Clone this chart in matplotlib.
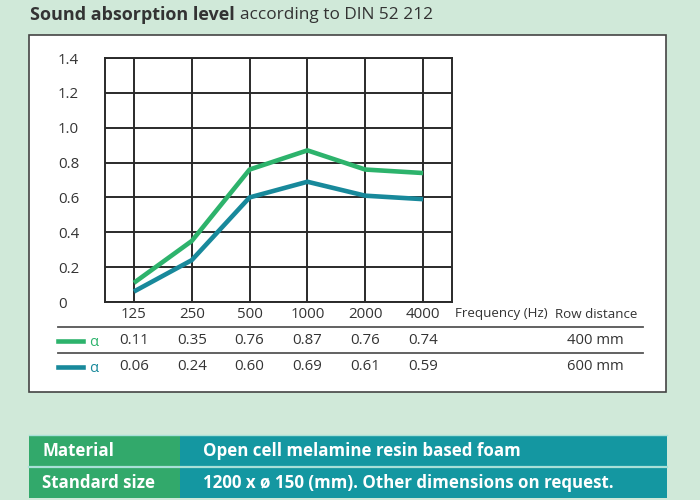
import matplotlib
matplotlib.use("Agg")
import matplotlib.pyplot as plt
from matplotlib.patches import Rectangle
from matplotlib.lines import Line2D

# data
freqs = ["125", "250", "500", "1000", "2000", "4000"]
alpha_400 = [0.11, 0.35, 0.76, 0.87, 0.76, 0.74]
alpha_600 = [0.06, 0.24, 0.60, 0.69, 0.61, 0.59]
row_dist = ["400 mm", "600 mm"]
yticks = [0, 0.2, 0.4, 0.6, 0.8, 1.0, 1.2, 1.4]
ytick_labels = ["0", "0.2", "0.4", "0.6", "0.8", "1.0", "1.2", "1.4"]
info_keys = ["Material", "Standard size"]
info_vals = ["Open cell melamine resin based foam",
             "1200 x ø 150 (mm). Other dimensions on request."]

BG = "#d0e9d9"
GREEN = "#2db36c"
TEAL = "#18899b"
CELL_GREEN = "#32a96b"
CELL_TEAL = "#1497a1"
DARK = "#333333"

plt.rcParams['font.family'] = ['Open Sans', 'DejaVu Sans']

W, H = 700, 500
fig = plt.figure(figsize=(7, 5), dpi=100, facecolor=BG)


def px(x, y):
    # pixel coords (top-left origin) to figure fraction
    return x / W, 1 - y / H


def rect_px(x0, y0, x1, y1, **kw):
    fx, fy = px(x0, y1)
    r = Rectangle((fx, fy), (x1 - x0) / W, (y1 - y0) / H,
                  transform=fig.transFigure, **kw)
    fig.patches.append(r)


# white panel (behind the axes)
rect_px(29, 35, 666, 392, facecolor="white", edgecolor="#444444", lw=1.2, zorder=-1)

# title
t1 = fig.text(*px(30, 15), "Sound absorption level", fontsize=13,
              fontweight="bold", color=DARK, va="center", ha="left")
fig.canvas.draw()
bb = t1.get_window_extent()
fig.text(bb.x1 / W + 5 / W, px(0, 15)[1], "according to DIN 52 212", fontsize=12.4,
         color=DARK, va="center", ha="left")

# plot area
ax_l, ax_r, ax_t, ax_b = 105, 452, 58, 302
ax = fig.add_axes([ax_l / W, 1 - ax_b / H, (ax_r - ax_l) / W, (ax_b - ax_t) / H])
ax.set_facecolor("white")
x = list(range(len(freqs)))
ax.plot(x, alpha_400, color=GREEN, lw=3.3, solid_capstyle="butt", zorder=3)
ax.plot(x, alpha_600, color=TEAL, lw=3.3, solid_capstyle="butt", zorder=3)
ax.set_xlim(-0.5, len(freqs) - 0.5)
ax.set_ylim(0, 1.4)
ax.set_xticks(x)
ax.set_xticklabels([])
ax.set_yticks(yticks)
ax.set_yticklabels(ytick_labels)
ax.tick_params(length=0)
ax.tick_params(axis="y", pad=47 * 0.72, labelsize=10.8, labelcolor=DARK)
for lab in ax.get_yticklabels():
    lab.set_ha("left")
ax.grid(True, color="#2a2a2a", lw=1.4)
for s in ax.spines.values():
    s.set_color("#2a2a2a")
    s.set_linewidth(1.4)


def ax_y(ypix):
    return (ax_b - ypix) / (ax_b - ax_t)


xt = ax.get_xaxis_transform()
for i, f in enumerate(freqs):
    ax.text(i, ax_y(314), f, transform=xt, ha="center", va="center",
            fontsize=10.8, color=DARK, clip_on=False)
    ax.text(i, ax_y(341), "%.2f" % alpha_400[i], transform=xt, ha="center",
            va="center", fontsize=10.8, color=DARK, clip_on=False)
    ax.text(i, ax_y(367), "%.2f" % alpha_600[i], transform=xt, ha="center",
            va="center", fontsize=10.8, color=DARK, clip_on=False)

fig.text(*px(455, 314), "Frequency (Hz)", fontsize=9.6, color=DARK, va="center")
fig.text(*px(555, 314), "Row distance", fontsize=9.6, color=DARK, va="center")
for ypix, txt in zip([341, 367], row_dist):
    fig.text(*px(624, ypix), txt, fontsize=10.6, color=DARK, va="center", ha="right")

# separator lines of the value table
for ypix in [327, 353]:
    fig.lines.append(Line2D([58 / W, 643 / W], [px(0, ypix)[1]] * 2,
                            transform=fig.transFigure, color="#555555", lw=1.3))

# legend swatches and alpha symbol
for ypix, col in zip([341, 367], [GREEN, TEAL]):
    fig.lines.append(Line2D([58 / W, 83 / W], [px(0, ypix)[1]] * 2,
                            transform=fig.transFigure, color=col, lw=3.3))
    fig.text(*px(89, ypix + 1), "α", fontsize=10.5, color=col, va="center")

# info table at the bottom
rows = [(435, 466), (467, 498)]
for (y0, y1), k, v in zip(rows, info_keys, info_vals):
    rect_px(29, y0, 180, y1, facecolor=CELL_GREEN, edgecolor="none")
    rect_px(180, y0, 667, y1, facecolor=CELL_TEAL, edgecolor="none")
    yc = (y0 + y1) / 2 + 1
    fig.text(*px(42, yc), k, fontsize=12.2, fontweight="bold", color="white", va="center")
    fig.text(*px(203, yc), v, fontsize=12.2, fontweight="bold", color="white", va="center")
fig.lines.append(Line2D([29 / W, 667 / W], [px(0, 466.5)[1]] * 2,
                        transform=fig.transFigure, color="#a9e0d8", lw=1.6))
fig.lines.append(Line2D([29 / W, 667 / W], [px(0, 435)[1]] * 2,
                        transform=fig.transFigure, color="#a9e0d8", lw=1.0))

fig.savefig("out.png", dpi=100, facecolor=BG)
